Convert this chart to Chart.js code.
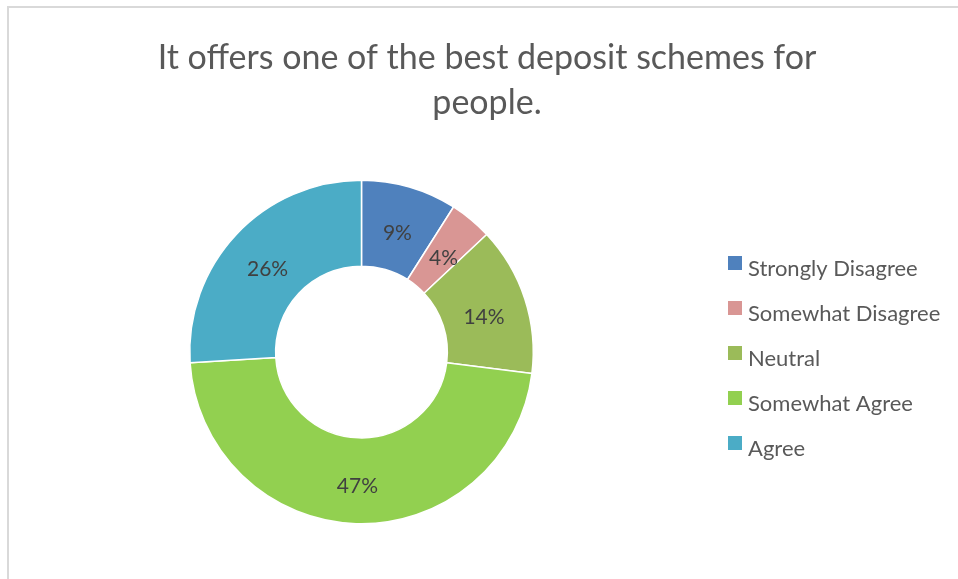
<!DOCTYPE html>
<html>
<head>
<meta charset="utf-8">
<title>Deposit schemes survey</title>
<script src="https://cdn.jsdelivr.net/npm/chart.js@4.4.1/dist/chart.umd.min.js"></script>
<style>
  html, body { margin: 0; padding: 0; background: #fff; }
  #wrap { position: relative; width: 958px; height: 579px; overflow: hidden; }
  #frame {
    position: absolute; left: 7px; top: 6px; right: -20px; bottom: -20px;
    border-top: 2px solid #d9d9d9; border-left: 2px solid #d9d9d9;
  }
  #chart { position: absolute; left: 0; top: 0; }
</style>
</head>
<body>
<div id="wrap">
  <div id="frame"></div>
  <canvas id="chart" width="958" height="579"></canvas>
</div>
<script>
  const titleLines = ["It offers one of the best deposit schemes for", "people."];
  const categories = ["Strongly Disagree", "Somewhat Disagree", "Neutral", "Somewhat Agree", "Agree"];
  const shares = [9, 4, 14, 47, 26];
  const sliceColors = ["#4f81bd", "#d99694", "#9bbb59", "#92d050", "#4bacc6"];

  const FONT = "Lato, 'Open Sans', sans-serif";

  // two-line centred heading
  const headingPlugin = {
    id: "heading",
    afterDraw(chart) {
      const ctx = chart.ctx;
      ctx.save();
      ctx.fillStyle = "#595959";
      ctx.font = "34px " + FONT;
      ctx.textAlign = "center";
      ctx.textBaseline = "alphabetic";
      titleLines.forEach((line, i) => ctx.fillText(line, 487, 69 + i * 45));
      ctx.restore();
    }
  };

  // percentage label in the middle of each ring segment
  const sliceLabels = {
    id: "sliceLabels",
    afterDatasetsDraw(chart) {
      const ctx = chart.ctx;
      const meta = chart.getDatasetMeta(0);
      const values = chart.data.datasets[0].data;
      ctx.save();
      ctx.fillStyle = "#404040";
      ctx.font = "21px " + FONT;
      ctx.textAlign = "center";
      ctx.textBaseline = "middle";
      meta.data.forEach((arc, i) => {
        const p = arc.tooltipPosition();
        ctx.fillText(values[i] + "%", p.x, p.y + 5);
      });
      ctx.restore();
    }
  };

  // vertical legend to the right of the ring
  const sideLegend = {
    id: "sideLegend",
    afterDraw(chart) {
      const ctx = chart.ctx;
      const colors = chart.data.datasets[0].backgroundColor;
      ctx.save();
      ctx.font = "22px " + FONT;
      ctx.textAlign = "left";
      ctx.textBaseline = "alphabetic";
      chart.data.labels.forEach((label, i) => {
        const top = 256 + i * 45;
        ctx.fillStyle = colors[i];
        ctx.fillRect(728, top, 14, 14);
        ctx.fillStyle = "#595959";
        ctx.fillText(label, 748, top + 20);
      });
      ctx.restore();
    }
  };

  new Chart(document.getElementById("chart"), {
    type: "doughnut",
    data: {
      labels: categories,
      datasets: [{
        data: shares,
        backgroundColor: sliceColors,
        borderColor: "#ffffff",
        borderWidth: 1.5
      }]
    },
    options: {
      responsive: false,
      animation: false,
      events: [],
      cutout: "50%",
      layout: { padding: { left: 189, right: 424, top: 179, bottom: 54 } },
      plugins: {
        legend: { display: false },
        title: { display: false },
        tooltip: { enabled: false }
      }
    },
    plugins: [headingPlugin, sliceLabels, sideLegend]
  });
</script>
</body>
</html>
